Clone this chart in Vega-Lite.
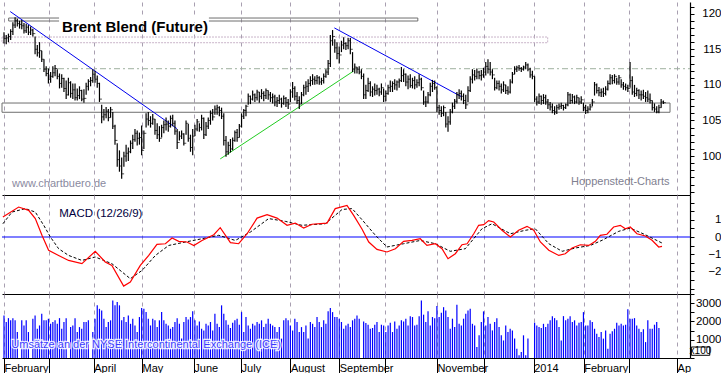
{
"$schema":"https://vega.github.io/schema/vega-lite/v6.json",
"padding":0,"spacing":0,"bounds":"flush","background":"white",
"config":{"view":{"stroke":null},"font":"Liberation Sans"},
"datasets":{
"px":[
{"i":0,"h":117.4,"l":115.8,"c":116.5},{"i":1,"h":117,"l":115.7,"c":116.6},{"i":2,"h":117.2,"l":116,"c":116.8},{"i":3,"h":117.8,"l":116.3,"c":117.5},{"i":4,"h":118.8,"l":117,"c":118.4},{"i":5,"h":119.5,"l":118,"c":119},{"i":6,"h":119.3,"l":118.2,"c":118.6},{"i":7,"h":119,"l":117.9,"c":118.5},{"i":8,"h":119.1,"l":117.8,"c":118.3},{"i":9,"h":118.7,"l":117.2,"c":117.6},
{"i":10,"h":118.6,"l":117.3,"c":118.1},{"i":11,"h":118.4,"l":117,"c":117.4},{"i":12,"h":118.2,"l":117,"c":117.7},{"i":13,"h":117.9,"l":116.8,"c":117.2},{"i":14,"h":116.8,"l":114.3,"c":115},{"i":15,"h":115.6,"l":114,"c":114.5},{"i":16,"h":116,"l":113.8,"c":114.8},{"i":17,"h":114.8,"l":113.2,"c":113.6},{"i":18,"h":113.6,"l":111.8,"c":112.2},{"i":19,"h":112.6,"l":111.2,"c":111.6},
{"i":20,"h":112.3,"l":110.2,"c":110.8},{"i":21,"h":111.8,"l":110.3,"c":111.2},{"i":22,"h":112.6,"l":111,"c":111.7},{"i":23,"h":112.8,"l":111.2,"c":112.3},{"i":24,"h":112.2,"l":110.8,"c":111.2},{"i":25,"h":111.6,"l":109.5,"c":110.2},{"i":26,"h":111.5,"l":109.6,"c":110.9},{"i":27,"h":111,"l":109,"c":109.5},{"i":28,"h":110.6,"l":108,"c":108.6},{"i":29,"h":111,"l":108.5,"c":110.3},
{"i":30,"h":110.5,"l":108.2,"c":108.8},{"i":31,"h":110.2,"l":108,"c":109.3},{"i":32,"h":110.2,"l":107.8,"c":108.2},{"i":33,"h":109.5,"l":107.8,"c":108.5},{"i":34,"h":109.8,"l":108,"c":109.2},{"i":35,"h":109.3,"l":107.7,"c":108},{"i":36,"h":109.4,"l":107.5,"c":108.1},{"i":37,"h":110.3,"l":108.6,"c":109.8},{"i":38,"h":110.8,"l":109.2,"c":110.5},{"i":39,"h":111.1,"l":109.8,"c":110.6},
{"i":40,"h":112.2,"l":110.3,"c":111.5},{"i":41,"h":112,"l":110.3,"c":110.8},{"i":42,"h":111.3,"l":109.6,"c":110.2},{"i":43,"h":110.3,"l":107.6,"c":108},{"i":44,"h":107.2,"l":104.6,"c":105.5},{"i":45,"h":106.6,"l":105,"c":105.8},{"i":46,"h":106.9,"l":105.3,"c":106.3},{"i":47,"h":106.6,"l":104.9,"c":105.4},{"i":48,"h":106.9,"l":105.4,"c":106.5},{"i":49,"h":106.2,"l":103.8,"c":104.2},
{"i":50,"h":104.4,"l":101.6,"c":102.2},{"i":51,"h":101.8,"l":98.5,"c":99.5},{"i":52,"h":100.8,"l":97.8,"c":98.6},{"i":53,"h":99.8,"l":96.8,"c":97.5},{"i":54,"h":100.6,"l":98.5,"c":100},{"i":55,"h":101.6,"l":99.2,"c":100.4},{"i":56,"h":101.2,"l":99.3,"c":100.6},{"i":57,"h":102.2,"l":100.4,"c":101.8},{"i":58,"h":103,"l":101,"c":102.3},{"i":59,"h":103.8,"l":102,"c":103.2},
{"i":60,"h":103.6,"l":101.5,"c":102.5},{"i":61,"h":103.3,"l":101.6,"c":102.6},{"i":62,"h":104.3,"l":100.1,"c":100.8},{"i":63,"h":103.6,"l":101,"c":103.2},{"i":64,"h":106,"l":104,"c":105.2},{"i":65,"h":106.2,"l":104.3,"c":105},{"i":66,"h":105.6,"l":104,"c":104.6},{"i":67,"h":105.9,"l":104.4,"c":105.2},{"i":68,"h":105.2,"l":103,"c":103.6},{"i":69,"h":104.6,"l":102.4,"c":103},
{"i":70,"h":104.2,"l":102,"c":102.5},{"i":71,"h":104.4,"l":102.6,"c":104},{"i":72,"h":105,"l":103.2,"c":104.4},{"i":73,"h":105.4,"l":103.6,"c":104.5},{"i":74,"h":105,"l":103.4,"c":104.2},{"i":75,"h":105.7,"l":104,"c":105.3},{"i":76,"h":105.8,"l":104.2,"c":104.6},{"i":77,"h":105,"l":103,"c":103.5},{"i":78,"h":103.8,"l":101,"c":101.9},{"i":79,"h":103.5,"l":102.2,"c":102.8},
{"i":80,"h":103.6,"l":102.4,"c":103.1},{"i":81,"h":103.2,"l":101.5,"c":101.8},{"i":82,"h":105,"l":103,"c":104.6},{"i":83,"h":104.5,"l":102,"c":102.5},{"i":84,"h":103,"l":100.6,"c":101.2},{"i":85,"h":103.8,"l":100.1,"c":102.8},{"i":86,"h":104.4,"l":102.8,"c":103.8},{"i":87,"h":105.2,"l":103.5,"c":104.8},{"i":88,"h":104.6,"l":103.4,"c":104},{"i":89,"h":105.8,"l":103.6,"c":105.3},
{"i":90,"h":105.4,"l":102.4,"c":103},{"i":91,"h":104.8,"l":102.8,"c":104.2},{"i":92,"h":105.4,"l":103.8,"c":105},{"i":93,"h":106.4,"l":104.4,"c":106},{"i":94,"h":106.6,"l":105,"c":105.5},{"i":95,"h":107.1,"l":105.8,"c":106.6},{"i":96,"h":107.2,"l":105.8,"c":106.8},{"i":97,"h":107,"l":105.6,"c":106.4},{"i":98,"h":106.8,"l":105.2,"c":105.6},{"i":99,"h":106,"l":101.5,"c":102.2},
{"i":100,"h":102.8,"l":99.9,"c":100.6},{"i":101,"h":102,"l":100.2,"c":101.5},{"i":102,"h":102.4,"l":100.5,"c":101},{"i":103,"h":102.6,"l":100.8,"c":102.2},{"i":104,"h":103.6,"l":102,"c":103.3},{"i":105,"h":103.8,"l":102,"c":102.6},{"i":106,"h":104.5,"l":102.6,"c":104.2},{"i":107,"h":106,"l":104,"c":105.6},{"i":108,"h":106.6,"l":105.2,"c":106.4},{"i":109,"h":107.2,"l":105.6,"c":107},
{"i":110,"h":108.8,"l":107.2,"c":108.4},{"i":111,"h":108.5,"l":107.3,"c":108},{"i":112,"h":109.2,"l":107.8,"c":108.6},{"i":113,"h":108.8,"l":107.6,"c":108.2},{"i":114,"h":109.3,"l":107.8,"c":109},{"i":115,"h":109,"l":107.5,"c":108.4},{"i":116,"h":109.4,"l":108,"c":108.8},{"i":117,"h":109.1,"l":107.7,"c":108.5},{"i":118,"h":109.5,"l":108,"c":109.2},{"i":119,"h":109.2,"l":107.9,"c":108.6},
{"i":120,"h":109,"l":107.6,"c":108.2},{"i":121,"h":108.8,"l":107.4,"c":108.3},{"i":122,"h":108.6,"l":107,"c":107.6},{"i":123,"h":108.3,"l":106.9,"c":107.8},{"i":124,"h":108.6,"l":107.3,"c":108},{"i":125,"h":108.2,"l":106.8,"c":107.4},{"i":126,"h":108.5,"l":107.2,"c":108.1},{"i":127,"h":108.3,"l":106.9,"c":107.5},{"i":128,"h":108,"l":106.6,"c":107.3},{"i":129,"h":109.4,"l":107.6,"c":109},
{"i":130,"h":110.4,"l":108.2,"c":109.5},{"i":131,"h":109.8,"l":107.8,"c":108.4},{"i":132,"h":109,"l":107.3,"c":107.8},{"i":133,"h":108.4,"l":106.6,"c":107.3},{"i":134,"h":109,"l":107.3,"c":108.6},{"i":135,"h":110,"l":108.4,"c":109.6},{"i":136,"h":110.5,"l":108.6,"c":109.8},{"i":137,"h":110.8,"l":109,"c":110.2},{"i":138,"h":111.2,"l":109.8,"c":110.6},{"i":139,"h":111.5,"l":110,"c":110.8},
{"i":140,"h":111.2,"l":110,"c":110.6},{"i":141,"h":111.4,"l":110.1,"c":111},{"i":142,"h":111.2,"l":110,"c":110.4},{"i":143,"h":111,"l":110,"c":110.6},{"i":144,"h":111.6,"l":110.2,"c":111.2},{"i":145,"h":112.2,"l":111,"c":111.8},{"i":146,"h":113.5,"l":111.4,"c":113},{"i":147,"h":117,"l":112.5,"c":116.2},{"i":148,"h":117.7,"l":115.5,"c":116.8},{"i":149,"h":116.4,"l":114.5,"c":115.2},
{"i":150,"h":116,"l":113.6,"c":114.4},{"i":151,"h":115.4,"l":113,"c":114.2},{"i":152,"h":116.2,"l":114.6,"c":115.6},{"i":153,"h":116.7,"l":115,"c":115.8},{"i":154,"h":116,"l":114.9,"c":115.5},{"i":155,"h":116.6,"l":115,"c":116.2},{"i":156,"h":116.6,"l":114.3,"c":115},{"i":157,"h":114.6,"l":111.8,"c":112.2},{"i":158,"h":113,"l":111.6,"c":112.5},{"i":159,"h":112.5,"l":111.6,"c":112.2},
{"i":160,"h":112.6,"l":111.5,"c":111.8},{"i":161,"h":112.2,"l":110.8,"c":111.2},{"i":162,"h":111.6,"l":108,"c":108.6},{"i":163,"h":110,"l":108,"c":109.2},{"i":164,"h":111,"l":109,"c":110.2},{"i":165,"h":110.5,"l":108.4,"c":109},{"i":166,"h":109.8,"l":108.3,"c":109.4},{"i":167,"h":110.2,"l":108.5,"c":109.2},{"i":168,"h":110,"l":108.6,"c":109.4},{"i":169,"h":109.6,"l":108.4,"c":109},
{"i":170,"h":110.2,"l":108.6,"c":109.6},{"i":171,"h":109.5,"l":107.6,"c":108.4},{"i":172,"h":109.2,"l":107.7,"c":108.8},{"i":173,"h":110,"l":108.6,"c":109.6},{"i":174,"h":110.6,"l":109,"c":109.8},{"i":175,"h":110.5,"l":109,"c":110.2},{"i":176,"h":110.8,"l":109.3,"c":110},{"i":177,"h":110.6,"l":109.2,"c":110.4},{"i":178,"h":110.9,"l":109.6,"c":110.6},{"i":179,"h":112.5,"l":110.4,"c":111.3},
{"i":180,"h":112.2,"l":110.4,"c":111.5},{"i":181,"h":111.6,"l":109.8,"c":110.4},{"i":182,"h":111.3,"l":109.4,"c":110.8},{"i":183,"h":111.5,"l":109.6,"c":109.9},{"i":184,"h":111,"l":109.5,"c":110.6},{"i":185,"h":111.2,"l":109.4,"c":110},{"i":186,"h":110.8,"l":109.6,"c":110.3},{"i":187,"h":111.5,"l":109.8,"c":110.8},{"i":188,"h":111,"l":109.2,"c":109.6},{"i":189,"h":109.2,"l":107.2,"c":107.6},
{"i":190,"h":108.4,"l":106.9,"c":107.6},{"i":191,"h":109,"l":107.4,"c":108.6},{"i":192,"h":110.3,"l":108.4,"c":109.8},{"i":193,"h":110.7,"l":109,"c":110.2},{"i":194,"h":110.6,"l":109.3,"c":109.6},{"i":195,"h":109.8,"l":106.2,"c":106.8},{"i":196,"h":107.2,"l":105.8,"c":106.4},{"i":197,"h":107,"l":105.5,"c":106},{"i":198,"h":107.1,"l":105.6,"c":106.8},{"i":199,"h":106.2,"l":104,"c":104.5},
{"i":200,"h":105.6,"l":103.4,"c":104.8},{"i":201,"h":106.6,"l":104.4,"c":106.2},{"i":202,"h":107.5,"l":106,"c":107},{"i":203,"h":108,"l":106.6,"c":107.7},{"i":204,"h":109,"l":107.4,"c":108.6},{"i":205,"h":109.4,"l":108,"c":108.8},{"i":206,"h":109.2,"l":107.8,"c":108.4},{"i":207,"h":108.8,"l":107.3,"c":107.8},{"i":208,"h":108.6,"l":106.6,"c":107.2},{"i":209,"h":109.8,"l":107.6,"c":109.2},
{"i":210,"h":111.2,"l":109,"c":110.8},{"i":211,"h":112.2,"l":110.2,"c":111.4},{"i":212,"h":112.1,"l":110.6,"c":111.2},{"i":213,"h":112.3,"l":110.8,"c":111.8},{"i":214,"h":112,"l":110.8,"c":111.3},{"i":215,"h":112.1,"l":110.6,"c":111.4},{"i":216,"h":112.4,"l":111,"c":111.8},{"i":217,"h":113.2,"l":111.3,"c":112.6},{"i":218,"h":113.6,"l":111.6,"c":112.2},{"i":219,"h":113.2,"l":111.3,"c":111.8},
{"i":220,"h":112.2,"l":110.8,"c":111.4},{"i":221,"h":111,"l":109.2,"c":109.6},{"i":222,"h":110.6,"l":109.4,"c":110.2},{"i":223,"h":110.6,"l":109.2,"c":109.8},{"i":224,"h":110.2,"l":108.8,"c":109.3},{"i":225,"h":110.5,"l":109,"c":110},{"i":226,"h":110,"l":108.7,"c":109.2},{"i":227,"h":109.8,"l":108.6,"c":109},{"i":228,"h":110.8,"l":108.8,"c":110.4},{"i":229,"h":111.8,"l":110.2,"c":111.5},
{"i":230,"h":112.6,"l":111.5,"c":112.2},{"i":231,"h":112.7,"l":111.8,"c":112.4},{"i":232,"h":112.8,"l":112,"c":112.3},{"i":233,"h":112.5,"l":111.8,"c":112.2},{"i":234,"h":112.7,"l":112,"c":112.5},{"i":235,"h":113.2,"l":112.2,"c":112.8},{"i":236,"h":113,"l":111.9,"c":112.2},{"i":237,"h":112.4,"l":111,"c":111.4},{"i":238,"h":112,"l":110.8,"c":111.2},{"i":239,"h":111.2,"l":107.6,"c":108},
{"i":240,"h":108.4,"l":107.1,"c":107.6},{"i":241,"h":108.8,"l":107.3,"c":108.4},{"i":242,"h":108.5,"l":107.2,"c":107.8},{"i":243,"h":108.7,"l":107.3,"c":108.2},{"i":244,"h":108.6,"l":107.2,"c":107.6},{"i":245,"h":108,"l":106.6,"c":107.2},{"i":246,"h":107.6,"l":106.4,"c":106.9},{"i":247,"h":107.4,"l":106,"c":106.4},{"i":248,"h":107,"l":105.8,"c":106.2},{"i":249,"h":107.2,"l":105.9,"c":106.8},
{"i":250,"h":107.4,"l":106.5,"c":107},{"i":251,"h":107.5,"l":106.6,"c":107.1},{"i":252,"h":107.2,"l":106.4,"c":106.8},{"i":253,"h":107.4,"l":106.6,"c":107.2},{"i":254,"h":109,"l":107,"c":108.6},{"i":255,"h":108.8,"l":107.3,"c":107.8},{"i":256,"h":108.7,"l":107.4,"c":108.3},{"i":257,"h":108.5,"l":107.3,"c":107.6},{"i":258,"h":108.6,"l":107.4,"c":108.2},{"i":259,"h":108.2,"l":107.2,"c":107.6},
{"i":260,"h":108.4,"l":107.3,"c":107.9},{"i":261,"h":107.5,"l":106.3,"c":106.8},{"i":262,"h":107.2,"l":105.9,"c":106.4},{"i":263,"h":107,"l":106,"c":106.6},{"i":264,"h":107.3,"l":106.4,"c":106.9},{"i":265,"h":108,"l":107,"c":107.6},{"i":266,"h":110.4,"l":108.5,"c":110},{"i":267,"h":110.2,"l":108.8,"c":109.2},{"i":268,"h":109.7,"l":108.4,"c":108.9},{"i":269,"h":109.5,"l":108.3,"c":109},
{"i":270,"h":109.6,"l":108.3,"c":108.8},{"i":271,"h":109.8,"l":108.5,"c":109.4},{"i":272,"h":110.6,"l":109.2,"c":110.2},{"i":273,"h":111.5,"l":110,"c":111},{"i":274,"h":111.4,"l":110.1,"c":110.6},{"i":275,"h":111.5,"l":110.2,"c":111.2},{"i":276,"h":111,"l":110,"c":110.4},{"i":277,"h":111.4,"l":110,"c":111},{"i":278,"h":110.8,"l":109.6,"c":110},{"i":279,"h":110.4,"l":109.3,"c":109.8},
{"i":280,"h":110.2,"l":109.2,"c":109.6},{"i":281,"h":110,"l":109,"c":109.5},{"i":282,"h":113.2,"l":109.6,"c":110.6},{"i":283,"h":111.2,"l":108.6,"c":109},{"i":284,"h":110,"l":108.3,"c":108.8},{"i":285,"h":109.6,"l":108.4,"c":109.2},{"i":286,"h":109.4,"l":108,"c":108.6},{"i":287,"h":109.2,"l":107.8,"c":108.6},{"i":288,"h":109.3,"l":108,"c":108.4},{"i":289,"h":109,"l":107.6,"c":108.2},
{"i":290,"h":109.2,"l":107.6,"c":108},{"i":291,"h":108.8,"l":107.4,"c":107.8},{"i":292,"h":107.8,"l":106.4,"c":106.8},{"i":293,"h":107.4,"l":106.2,"c":106.6},{"i":294,"h":107,"l":106,"c":106.2},{"i":295,"h":107.2,"l":106,"c":106.8},{"i":296,"h":108,"l":106.8,"c":107.6},{"i":297,"h":107.8,"l":107.3,"c":107.5}
],
"vol":[
{"i":0,"v":2330},{"i":1,"v":1970},{"i":2,"v":2180},{"i":3,"v":2060},{"i":4,"v":2180},{"i":5,"v":2060},{"i":6,"v":1420},{"i":8,"v":2060},{"i":9,"v":1780},{"i":10,"v":2060},{"i":11,"v":1420},{"i":13,"v":2150},{"i":14,"v":2330},{"i":15,"v":1600},{"i":16,"v":1780},{"i":17,"v":2420},{"i":18,"v":2060},{"i":19,"v":2060},{"i":20,"v":2150},{"i":21,"v":1870},{"i":22,"v":1970},{"i":23,"v":2060},{"i":24,"v":1870},{"i":25,"v":2180},{"i":26,"v":1600},{"i":27,"v":1970},{"i":28,"v":2180},{"i":30,"v":1690},{"i":31,"v":1780},{"i":32,"v":2180},{"i":33,"v":1420},{"i":34,"v":1690},{"i":35,"v":1600},{"i":36,"v":1970},{"i":37,"v":1970},{"i":38,"v":2060},{"i":40,"v":1420},{"i":41,"v":2150},{"i":42,"v":2880},{"i":43,"v":2690},{"i":44,"v":2600},{"i":45,"v":2150},{"i":46,"v":1690},{"i":47,"v":1970},{"i":48,"v":2060},{"i":49,"v":3150},
{"i":50,"v":2880},{"i":51,"v":3060},{"i":52,"v":2880},{"i":53,"v":2060},{"i":54,"v":2240},{"i":55,"v":1970},{"i":56,"v":2330},{"i":57,"v":1870},{"i":58,"v":2150},{"i":59,"v":1780},{"i":60,"v":1420},{"i":61,"v":2240},{"i":62,"v":2730},{"i":63,"v":2690},{"i":64,"v":2510},{"i":65,"v":2150},{"i":66,"v":1780},{"i":67,"v":2150},{"i":68,"v":2060},{"i":69,"v":1690},{"i":70,"v":2060},{"i":71,"v":2510},{"i":72,"v":2060},{"i":73,"v":1870},{"i":74,"v":1780},{"i":75,"v":1600},{"i":76,"v":1690},{"i":77,"v":1970},{"i":78,"v":2180},{"i":79,"v":1870},{"i":80,"v":1060},{"i":81,"v":1970},{"i":82,"v":2240},{"i":83,"v":2110},{"i":84,"v":2240},{"i":85,"v":2550},{"i":86,"v":2060},{"i":87,"v":1780},{"i":88,"v":2000},{"i":89,"v":1600},{"i":90,"v":1510},{"i":91,"v":1870},{"i":92,"v":1780},{"i":93,"v":1970},{"i":94,"v":1510},{"i":95,"v":2420},{"i":96,"v":1870},{"i":97,"v":1690},{"i":98,"v":2880},{"i":99,"v":2420},
{"i":100,"v":2060},{"i":101,"v":1820},{"i":102,"v":1640},{"i":103,"v":1930},{"i":104,"v":2060},{"i":105,"v":2150},{"i":106,"v":1820},{"i":107,"v":2510},{"i":108,"v":1420},{"i":109,"v":2240},{"i":110,"v":1780},{"i":111,"v":1600},{"i":112,"v":1870},{"i":113,"v":1780},{"i":114,"v":1970},{"i":115,"v":1870},{"i":116,"v":2060},{"i":117,"v":1690},{"i":118,"v":1870},{"i":119,"v":2150},{"i":120,"v":1870},{"i":121,"v":1780},{"i":122,"v":1690},{"i":123,"v":1420},{"i":124,"v":1690},{"i":125,"v":1060},{"i":126,"v":2060},{"i":127,"v":2180},{"i":128,"v":2060},{"i":129,"v":1780},{"i":130,"v":1510},{"i":131,"v":2150},{"i":132,"v":1970},{"i":133,"v":1420},{"i":134,"v":1690},{"i":135,"v":1420},{"i":136,"v":1780},{"i":137,"v":1060},{"i":138,"v":1970},{"i":139,"v":1870},{"i":140,"v":1690},{"i":141,"v":2240},{"i":142,"v":1970},{"i":143,"v":1690},{"i":144,"v":2060},{"i":145,"v":1870},{"i":146,"v":2550},{"i":147,"v":2730},{"i":148,"v":2510},{"i":149,"v":2240},
{"i":150,"v":2240},{"i":151,"v":2150},{"i":152,"v":1970},{"i":153,"v":1600},{"i":154,"v":1780},{"i":155,"v":1870},{"i":156,"v":1690},{"i":157,"v":2060},{"i":158,"v":2150},{"i":159,"v":2330},{"i":160,"v":2150},{"i":162,"v":2000},{"i":163,"v":1910},{"i":164,"v":1820},{"i":165,"v":1600},{"i":166,"v":1640},{"i":167,"v":1820},{"i":168,"v":1970},{"i":169,"v":1420},{"i":170,"v":1820},{"i":171,"v":1780},{"i":172,"v":1420},{"i":173,"v":1780},{"i":174,"v":1930},{"i":175,"v":1420},{"i":176,"v":2000},{"i":177,"v":1600},{"i":178,"v":1780},{"i":179,"v":2060},{"i":180,"v":2000},{"i":181,"v":2150},{"i":182,"v":1780},{"i":183,"v":2290},{"i":184,"v":2240},{"i":185,"v":1780},{"i":186,"v":1820},{"i":187,"v":2290},{"i":188,"v":3150},{"i":189,"v":2370},{"i":190,"v":1970},{"i":191,"v":2550},{"i":192,"v":1780},{"i":193,"v":2240},{"i":194,"v":2180},{"i":195,"v":2840},{"i":196,"v":2240},{"i":197,"v":2480},{"i":198,"v":2780},{"i":199,"v":2600},
{"i":200,"v":2240},{"i":201,"v":1600},{"i":202,"v":2150},{"i":203,"v":1690},{"i":204,"v":2910},{"i":205,"v":1870},{"i":206,"v":1780},{"i":207,"v":2150},{"i":208,"v":2420},{"i":209,"v":2600},{"i":210,"v":2690},{"i":211,"v":1870},{"i":212,"v":1780},{"i":213,"v":600},{"i":214,"v":1240},{"i":215,"v":1970},{"i":216,"v":2550},{"i":217,"v":1780},{"i":218,"v":2240},{"i":219,"v":1870},{"i":220,"v":1510},{"i":221,"v":1970},{"i":222,"v":2180},{"i":223,"v":1690},{"i":224,"v":1240},{"i":225,"v":960},{"i":226,"v":1780},{"i":227,"v":1420},{"i":228,"v":1600},{"i":229,"v":1510},{"i":230,"v":1060},{"i":231,"v":510},{"i":232,"v":150},{"i":233,"v":330},{"i":234,"v":1240},{"i":235,"v":150},{"i":236,"v":1060},
{"i":239,"v":1930},{"i":240,"v":1780},{"i":241,"v":1690},{"i":242,"v":1640},{"i":243,"v":1870},{"i":244,"v":1690},{"i":245,"v":1870},{"i":246,"v":2060},{"i":247,"v":2290},{"i":248,"v":2180},{"i":249,"v":2060},{"i":250,"v":1690},{"i":251,"v":960},{"i":252,"v":2290},{"i":253,"v":2060},{"i":254,"v":2150},{"i":255,"v":2290},{"i":256,"v":1970},{"i":257,"v":2060},{"i":258,"v":1780},{"i":259,"v":1930},{"i":260,"v":1970},{"i":261,"v":2510},{"i":262,"v":1780},{"i":263,"v":1780},{"i":264,"v":2060},{"i":265,"v":1970},{"i":266,"v":1600},{"i":267,"v":1330},{"i":268,"v":1150},{"i":269,"v":1420},{"i":270,"v":1060},{"i":271,"v":1510},{"i":272,"v":510},{"i":273,"v":1330},{"i":274,"v":1460},{"i":275,"v":1600},{"i":276,"v":1930},{"i":277,"v":1780},{"i":278,"v":1870},{"i":279,"v":1780},{"i":280,"v":1820},{"i":281,"v":2660},{"i":282,"v":2150},{"i":283,"v":2150},{"i":284,"v":2180},{"i":285,"v":1780},{"i":286,"v":1600},{"i":287,"v":1420},{"i":288,"v":1570},{"i":289,"v":870},{"i":290,"v":2060},{"i":291,"v":1600},{"i":292,"v":1600},{"i":293,"v":1820},{"i":294,"v":1970},{"i":295,"v":1640}
],
"macd":[
{"i":-0.5,"v":1.16},{"i":6.6,"v":1.74},{"i":11.1,"v":1.55},{"i":14.1,"v":1.07},{"i":17.1,"v":0.1},{"i":20.1,"v":-0.77},{"i":24.6,"v":-1.07},{"i":29.1,"v":-1.36},{"i":35.1,"v":-1.55},{"i":41.1,"v":-0.83},{"i":45.6,"v":-1.45},{"i":48.6,"v":-1.65},{"i":53.9,"v":-2.85},{"i":56.9,"v":-2.62},{"i":61.4,"v":-1.65},{"i":65.2,"v":-1.07},{"i":68.9,"v":-0.43},{"i":72.7,"v":-0.39},{"i":75.7,"v":-0.06},{"i":78.7,"v":-0.25},{"i":82.4,"v":-0.29},{"i":85.5,"v":-0.49},{"i":89.2,"v":-0.2},{"i":94.5,"v":0.13},{"i":97.4,"v":0.54},{"i":102,"v":-0.33},{"i":105.7,"v":-0.39},{"i":109.5,"v":0.19},{"i":114,"v":1.1},{"i":118.5,"v":1.3},{"i":123,"v":1.1},{"i":127.5,"v":0.68},{"i":131.2,"v":0.81},{"i":135,"v":0.52},{"i":138.7,"v":0.74},{"i":145.5,"v":0.81},{"i":149.2,"v":1.65},{"i":154.5,"v":1.84},{"i":157.5,"v":1.26},{"i":161.3,"v":0.45},{"i":164.3,"v":-0.29},{"i":168,"v":-0.72},{"i":172.5,"v":-0.87},{"i":176.3,"v":-0.68},{"i":180,"v":-0.25},{"i":183.8,"v":-0.19},{"i":187.5,"v":-0.1},{"i":190.5,"v":-0.49},{"i":194.3,"v":-0.39},{"i":197.3,"v":-0.68},{"i":200,"v":-1.26},{"i":203.3,"v":-0.97},{"i":206.3,"v":-0.45},{"i":208.6,"v":-0.39},{"i":211.6,"v":0.19},{"i":213.8,"v":0.68},{"i":216.1,"v":0.72},{"i":218.3,"v":0.95},{"i":220.6,"v":0.87},{"i":224.3,"v":0.39},{"i":228.1,"v":0},{"i":231.8,"v":0.39},{"i":235.6,"v":0.62},{"i":238.6,"v":0.39},{"i":241.6,"v":-0.29},{"i":245.4,"v":-0.77},{"i":249.9,"v":-1.07},{"i":252.8,"v":-0.97},{"i":255.9,"v":-0.64},{"i":259.6,"v":-0.45},{"i":263.4,"v":-0.49},{"i":266.4,"v":-0.25},{"i":268.6,"v":0.1},{"i":271.6,"v":0.16},{"i":274.6,"v":0.58},{"i":277.6,"v":0.68},{"i":279.9,"v":0.48},{"i":282.1,"v":0.58},{"i":285.1,"v":0.19},{"i":288.9,"v":0.06},{"i":291.9,"v":-0.19},{"i":294.9,"v":-0.58},{"i":296.4,"v":-0.54}
],
"sig":[
{"i":-0.5,"v":0.77},{"i":3.6,"v":1.45},{"i":9.6,"v":1.65},{"i":14.1,"v":1.45},{"i":17.9,"v":0.68},{"i":20.9,"v":0},{"i":24.6,"v":-0.68},{"i":29.1,"v":-1.07},{"i":35.1,"v":-1.36},{"i":41.1,"v":-1.16},{"i":48.6,"v":-1.55},{"i":56.9,"v":-2.42},{"i":62.2,"v":-1.94},{"i":68.2,"v":-1.07},{"i":74.2,"v":-0.49},{"i":81.7,"v":-0.29},{"i":89.2,"v":-0.1},{"i":96.7,"v":0.1},{"i":104.2,"v":-0.2},{"i":111,"v":0.29},{"i":119.2,"v":1.07},{"i":126.7,"v":0.91},{"i":134.2,"v":0.68},{"i":144.7,"v":0.77},{"i":152.3,"v":1.6},{"i":156.8,"v":1.65},{"i":161.3,"v":1.0},{"i":167.3,"v":0.1},{"i":172.5,"v":-0.58},{"i":180,"v":-0.39},{"i":187.5,"v":-0.2},{"i":194.3,"v":-0.39},{"i":201,"v":-0.83},{"i":207.8,"v":-0.68},{"i":215.3,"v":0.48},{"i":219.8,"v":0.77},{"i":228.1,"v":0.19},{"i":234.8,"v":0.39},{"i":239.3,"v":0.48},{"i":245.4,"v":-0.39},{"i":251.4,"v":-0.83},{"i":257.3,"v":-0.64},{"i":264.1,"v":-0.49},{"i":269.4,"v":-0.19},{"i":276.9,"v":0.33},{"i":282.1,"v":0.52},{"i":288.9,"v":0.13},{"i":296.4,"v":-0.35}
]
},
"vconcat":[
{
"width":688,"height":193,
"encoding":{
 "x":{"field":"i","type":"quantitative","scale":{"domain":[-0.9,309],"nice":false,"zero":false},
  "axis":{"values":[0,20.1,40.4,62.2,85.5,106.8,129,151,171.8,195,216.1,238.6,261.1,281.4,303.2],"labels":false,"ticks":false,"grid":true,"gridDash":[4,4],"gridColor":"#a89fb0","gridWidth":1,"domain":true,"domainColor":"black","domainWidth":1.2,"title":null}},
 "y":{"field":"p","type":"quantitative","scale":{"domain":[94.53,121.64],"nice":false,"zero":false},
  "axis":{"orient":"right","values":[95,96,97,98,99,100,101,102,103,104,105,106,107,108,109,110,111,112,113,114,115,116,117,118,119,120,121],"labelExpr":"(datum.value % 5 == 0 && datum.value >= 100) ? datum.label : ''","title":null,"tickSize":4,"tickColor":"black","domainColor":"black","domainWidth":1.2,"labelAlign":"right","labelPadding":27,"labelFontSize":11.5,"labelColor":"black","labelFont":"Liberation Sans","grid":false,"labelOverlap":false,"labelBound":false,"labelFlush":false}}
},
"layer":[
{"data":{"values":[{"i":-0.9,"i2":300,"p":106.15,"p2":107.45},{"i":2.1,"i2":186.4,"p":118.97,"p2":119.39}]},
 "mark":{"type":"rect","filled":false,"stroke":"#6e6e6e","strokeWidth":1},
 "encoding":{"x2":{"field":"i2"},"y2":{"field":"p2"}}},
{"data":{"values":[{"i":-0.9,"i2":244.9,"p":115.92,"p2":116.72}]},
 "mark":{"type":"rect","filled":false,"stroke":"#c9b4c9","strokeWidth":1,"strokeDash":[2,1]},
 "encoding":{"x2":{"field":"i2"},"y2":{"field":"p2"}}},
{"data":{"values":[{"i":-0.9,"i2":309,"p":112.27}]},
 "mark":{"type":"rule","stroke":"#9fb09f","strokeWidth":1,"strokeDash":[6,3,2,3]},
 "encoding":{"x2":{"field":"i2"}}},
{"data":{"values":[{"i":2.8,"i2":77.9,"p":120.3,"p2":103.85,"kind":"down"},{"i":148.8,"i2":206.3,"p":118.0,"p2":108.3,"kind":"down"},{"i":97.4,"i2":157.5,"p":99.6,"p2":111.95,"kind":"up"}]},
 "mark":{"type":"rule","strokeWidth":1},
 "encoding":{"x2":{"field":"i2"},"y2":{"field":"p2"},
  "color":{"field":"kind","type":"nominal","scale":{"domain":["down","up"],"range":["#0000ee","#22cc22"]},"legend":null}}},
{"data":{"name":"px"},
 "mark":{"type":"rule","color":"black","strokeWidth":1.2},
 "encoding":{
  "y":{"field":"l","type":"quantitative","scale":{"domain":[94.53,121.64],"nice":false,"zero":false},
   "axis":{"orient":"right","values":[95,96,97,98,99,100,101,102,103,104,105,106,107,108,109,110,111,112,113,114,115,116,117,118,119,120,121],"labelExpr":"(datum.value % 5 == 0 && datum.value >= 100) ? datum.label : ''","title":null,"tickSize":4,"tickColor":"black","domainColor":"black","domainWidth":1.2,"labelAlign":"right","labelPadding":27,"labelFontSize":11.5,"labelColor":"black","labelFont":"Liberation Sans","grid":false,"labelOverlap":false,"labelBound":false,"labelFlush":false}},
  "y2":{"field":"h"}}},
{"data":{"name":"px"},
 "mark":{"type":"tick","orient":"horizontal","color":"black","size":2.5,"thickness":1,"xOffset":1.2},
 "encoding":{
  "y":{"field":"c","type":"quantitative","scale":{"domain":[94.53,121.64],"nice":false,"zero":false},
   "axis":{"orient":"right","values":[95,96,97,98,99,100,101,102,103,104,105,106,107,108,109,110,111,112,113,114,115,116,117,118,119,120,121],"labelExpr":"(datum.value % 5 == 0 && datum.value >= 100) ? datum.label : ''","title":null,"tickSize":4,"tickColor":"black","domainColor":"black","domainWidth":1.2,"labelAlign":"right","labelPadding":27,"labelFontSize":11.5,"labelColor":"black","labelFont":"Liberation Sans","grid":false,"labelOverlap":false,"labelBound":false,"labelFlush":false}}}},
{"data":{"values":[{"i":24.8,"i2":92.3,"p":118.83,"p2":119.55}]},
 "mark":{"type":"rect","fill":"white"},
 "encoding":{"x2":{"field":"i2"},"y2":{"field":"p2"}}},
{"data":{"values":[{"i":59.0,"p":118.06,"t":"Brent Blend (Future)"}]},
 "mark":{"type":"text","font":"Liberation Sans","fontSize":15,"fontWeight":"bold","align":"center","baseline":"middle","color":"black"},
 "encoding":{"text":{"field":"t"}}},
{"data":{"values":[{"i":3.6,"p":96.12,"t":"www.chartbuero.de"}]},
 "mark":{"type":"text","font":"Liberation Sans","fontSize":11,"align":"left","baseline":"middle","color":"#8a8aa0"},
 "encoding":{"text":{"field":"t"}}},
{"data":{"values":[{"i":255.4,"p":96.36,"t":"Hoppenstedt-Charts"}]},
 "mark":{"type":"text","font":"Liberation Sans","fontSize":11,"align":"left","baseline":"middle","color":"#808090"},
 "encoding":{"text":{"field":"t"}}}
]
},
{
"width":688,"height":99,
"encoding":{
 "x":{"field":"i","type":"quantitative","scale":{"domain":[-0.9,309],"nice":false,"zero":false},
  "axis":{"values":[0,20.1,40.4,62.2,85.5,106.8,129,151,171.8,195,216.1,238.6,261.1,281.4,303.2],"labels":false,"ticks":false,"grid":true,"gridDash":[4,4],"gridColor":"#a89fb0","gridWidth":1,"domain":true,"domainColor":"black","domainWidth":1.2,"title":null}},
 "y":{"field":"v","type":"quantitative","scale":{"domain":[-3.31,2.44],"nice":false,"zero":false},
  "axis":{"orient":"right","values":[-3,-2.5,-2,-1.5,-1,-0.5,0,0.5,1,1.5,2],"format":".0f","labelExpr":"(datum.value % 1 == 0 && datum.value >= -2 && datum.value <= 1) ? datum.label : ''","title":null,"tickSize":4,"tickColor":"black","domainColor":"black","domainWidth":1.2,"labelAlign":"right","labelPadding":27,"labelFontSize":11.5,"labelColor":"black","labelFont":"Liberation Sans","grid":false,"labelOverlap":false,"labelBound":false,"labelFlush":false}}
},
"layer":[
{"data":{"values":[{"i":-0.9,"i2":309,"v":0}]},
 "mark":{"type":"rule","color":"#0000ff","strokeWidth":1.2},
 "encoding":{"x2":{"field":"i2"}}},
{"data":{"name":"sig"},
 "mark":{"type":"line","color":"black","strokeWidth":1,"strokeDash":[3,2]},
 "encoding":{}},
{"data":{"name":"macd"},
 "mark":{"type":"line","color":"#ff0000","strokeWidth":1.2},
 "encoding":{}},
{"data":{"values":[{"i":24.9,"v":1.35,"t":"MACD (12/26/9)"}]},
 "mark":{"type":"text","font":"Liberation Sans","fontSize":11.5,"align":"left","baseline":"middle","color":"#000040"},
 "encoding":{"text":{"field":"t"}}}
]
},
{
"width":688,"height":64,
"encoding":{
 "x":{"field":"i","type":"quantitative","scale":{"domain":[-0.9,309],"nice":false,"zero":false},
  "axis":{"values":[0,20.1,40.4,62.2,85.5,106.8,129,151,171.8,195,216.1,238.6,261.1,281.4,303.2],
   "labelExpr":"datum.value < 10 ? 'February' : datum.value < 30 ? '' : datum.value < 50 ? 'April' : datum.value < 70 ? 'May' : datum.value < 95 ? 'June' : datum.value < 115 ? 'July' : datum.value < 140 ? 'August' : datum.value < 160 ? 'September' : datum.value < 180 ? '' : datum.value < 205 ? 'November' : datum.value < 225 ? '' : datum.value < 250 ? '2014' : datum.value < 270 ? 'February' : datum.value < 290 ? '' : 'Ap'",
   "grid":true,"gridDash":[4,4],"gridColor":"#a89fb0","gridWidth":1,"ticks":true,"tickSize":17,"tickColor":"black","domain":true,"domainColor":"black","domainWidth":1.2,
   "labelAlign":"left","labelBaseline":"alphabetic","labelPadding":-4,"labelDx":1,"labelFontSize":11,"labelFont":"Liberation Sans","labelColor":"black","labelOverlap":false,"labelBound":false,"labelFlush":false,"title":null}},
 "y":{"field":"v","type":"quantitative","scale":{"domain":[0,3500],"nice":false,"zero":false},
  "axis":{"orient":"right","values":[0,500,1000,1500,2000,2500,3000,3500],"format":"d","labelExpr":"(datum.value % 1000 == 0 && datum.value >= 1000 && datum.value <= 3000) ? datum.label : ''","title":null,"tickSize":4,"tickColor":"black","domainColor":"black","domainWidth":1.2,"labelAlign":"right","labelPadding":27,"labelFontSize":11.5,"labelColor":"black","labelFont":"Liberation Sans","grid":false,"labelOverlap":false,"labelBound":false,"labelFlush":false}}
},
"layer":[
{"data":{"name":"vol"},
 "mark":{"type":"rule","color":"#0000ff","strokeWidth":1.2},
 "encoding":{"y2":{"datum":0}}},
{"data":{"values":[{"i":3.3,"v":727,"t":"Umsätze an der NYSE Intercontinental Exchange (ICE)"}]},
 "mark":{"type":"text","font":"Liberation Sans","fontSize":11,"align":"left","baseline":"middle","color":"white","stroke":"white","strokeWidth":2.5,"strokeOpacity":0.85},
 "encoding":{"text":{"field":"t"}}},
{"data":{"values":[{"i":3.3,"v":727,"t":"Umsätze an der NYSE Intercontinental Exchange (ICE)"}]},
 "mark":{"type":"text","font":"Liberation Sans","fontSize":11,"align":"left","baseline":"middle","color":"#3a3aff"},
 "encoding":{"text":{"field":"t"}}},
{"data":{"values":[{"i":309.6,"i2":317.9,"v":148,"v2":601}]},
 "mark":{"type":"rect","fill":"white","stroke":"black","strokeWidth":1},
 "encoding":{"x2":{"field":"i2"},"y2":{"field":"v2"}}},
{"data":{"values":[{"i":313.7,"v":383,"t":"x100"}]},
 "mark":{"type":"text","font":"Liberation Sans","fontSize":10,"align":"center","baseline":"middle","color":"black"},
 "encoding":{"text":{"field":"t"}}}
]
}
]
}
